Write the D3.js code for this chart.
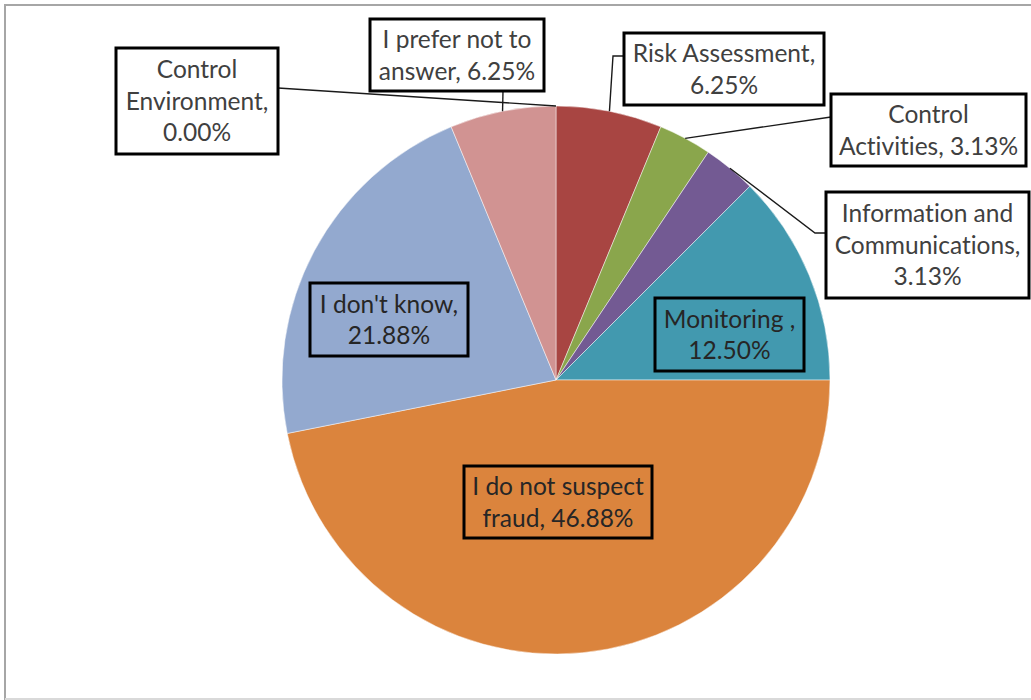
<!DOCTYPE html>
<html>
<head>
<meta charset="utf-8">
<script src="https://cdn.jsdelivr.net/npm/d3@7"></script>
<style>
  html, body { margin: 0; padding: 0; background: #fff; }
  svg { display: block; }
  text { font-family: Lato, "Open Sans", sans-serif; font-variant-ligatures: none; }
</style>
</head>
<body>
<svg id="chart" width="1031" height="700"></svg>
<script>
// Fraud-suspicion survey answers, clockwise from 12 o'clock
const categories = [
  "Control Environment",
  "Risk Assessment",
  "Control Activities",
  "Information and Communications",
  "Monitoring",
  "I do not suspect fraud",
  "I don't know",
  "I prefer not to answer"
];
const shares = [0.00, 6.25, 3.13, 3.13, 12.50, 46.88, 21.88, 6.25];
const sliceColors = ["#4572A7", "#A84542", "#8AA64C", "#735A93", "#4299AF", "#DB843D", "#93A9CF", "#D19392"];
// label text lines (values appended from the shares array)
const labelLines = [
  ["Control", "Environment,"],
  ["Risk Assessment,"],
  ["Control", "Activities,"],
  ["Information and", "Communications,"],
  ["Monitoring ,"],
  ["I do not suspect", "fraud,"],
  ["I don't know,"],
  ["I prefer not to", "answer,"]
];

const svg = d3.select("#chart");
const W = 1031, H = 700;

// chart area frame
svg.append("line").attr("x1", 5).attr("y1", 5).attr("x2", W + 5).attr("y2", 5)
  .attr("stroke", "#a6a6a6").attr("stroke-width", 2);
svg.append("line").attr("x1", 5).attr("y1", 4).attr("x2", 5).attr("y2", H)
  .attr("stroke", "#a6a6a6").attr("stroke-width", 2);
svg.append("line").attr("x1", 5).attr("y1", H - 1).attr("x2", W).attr("y2", H - 1)
  .attr("stroke", "#d9d9d9").attr("stroke-width", 2);

const cx = 556, cy = 380, R = 274;
const g = svg.append("g").attr("transform", `translate(${cx},${cy})`);

const pie = d3.pie().sort(null).value(d => d);
const arcs = pie(shares);
const arc = d3.arc().innerRadius(0).outerRadius(R);

g.selectAll("path.slice").data(arcs).join("path")
  .attr("class", "slice")
  .attr("d", arc)
  .attr("fill", (d, i) => sliceColors[i])
  .attr("stroke", "#ffffff").attr("stroke-opacity", 0.6).attr("stroke-width", 0.8);

// point on the rim at a slice's middle angle
function rimPoint(i) {
  const a = (arcs[i].startAngle + arcs[i].endAngle) / 2;
  return [cx + R * Math.sin(a), cy - R * Math.cos(a)];
}

// label boxes: [x, y, w, h], whether drawn outside the pie, and leader bend points
const boxes = [
  { i: 0, box: [116, 48, 162, 106], outside: true, leader: [[278, 88]] },
  { i: 1, box: [624, 33, 200, 72], outside: true, leader: [[624, 56], [613, 56]] },
  { i: 2, box: [831, 94, 195, 72], outside: true, leader: [[831, 117]] },
  { i: 3, box: [826, 192, 203, 106], outside: true, leader: [[826, 233], [815, 233]] },
  { i: 4, box: [655, 298, 149, 73], outside: false },
  { i: 5, box: [464, 466, 188, 72], outside: false },
  { i: 6, box: [310, 283, 158, 73], outside: false },
  { i: 7, box: [370, 19, 174, 72], outside: true, leader: [[503, 91]] }
];

const fmt = v => v.toFixed(2) + "%";
const lineGap = 31.5, fontSize = 24.5;

boxes.forEach(b => {
  if (b.leader) {
    const pts = b.leader.concat([rimPoint(b.i)]);
    svg.append("path")
      .attr("d", d3.line()(pts))
      .attr("fill", "none").attr("stroke", "#1a1a1a").attr("stroke-width", 1.4);
  }
});

boxes.forEach(b => {
  const [x, y, w, h] = b.box;
  svg.append("rect")
    .attr("x", x).attr("y", y).attr("width", w).attr("height", h)
    .attr("fill", b.outside ? "#ffffff" : "none")
    .attr("stroke", "#000").attr("stroke-width", 3);

  // compose text lines: value joins the last line if it has a trailing comma
  const src = labelLines[b.i].slice();
  const val = fmt(shares[b.i]);
  let lines;
  if (b.i === 2 || b.i === 5 || b.i === 7) {
    src[src.length - 1] = src[src.length - 1] + " " + val;
    lines = src;
  } else {
    lines = src.concat([val]);
  }
  const midY = y + h / 2;
  const startY = midY - (lines.length - 1) * lineGap / 2;
  const t = svg.append("text")
    .attr("text-anchor", "middle")
    .attr("font-size", fontSize)
    .attr("fill", b.outside ? "#404040" : "#262626");
  lines.forEach((ln, k) => {
    t.append("tspan")
      .attr("x", x + w / 2)
      .attr("y", startY + k * lineGap)
      .attr("dy", "0.36em")
      .text(ln);
  });
});
</script>
</body>
</html>
